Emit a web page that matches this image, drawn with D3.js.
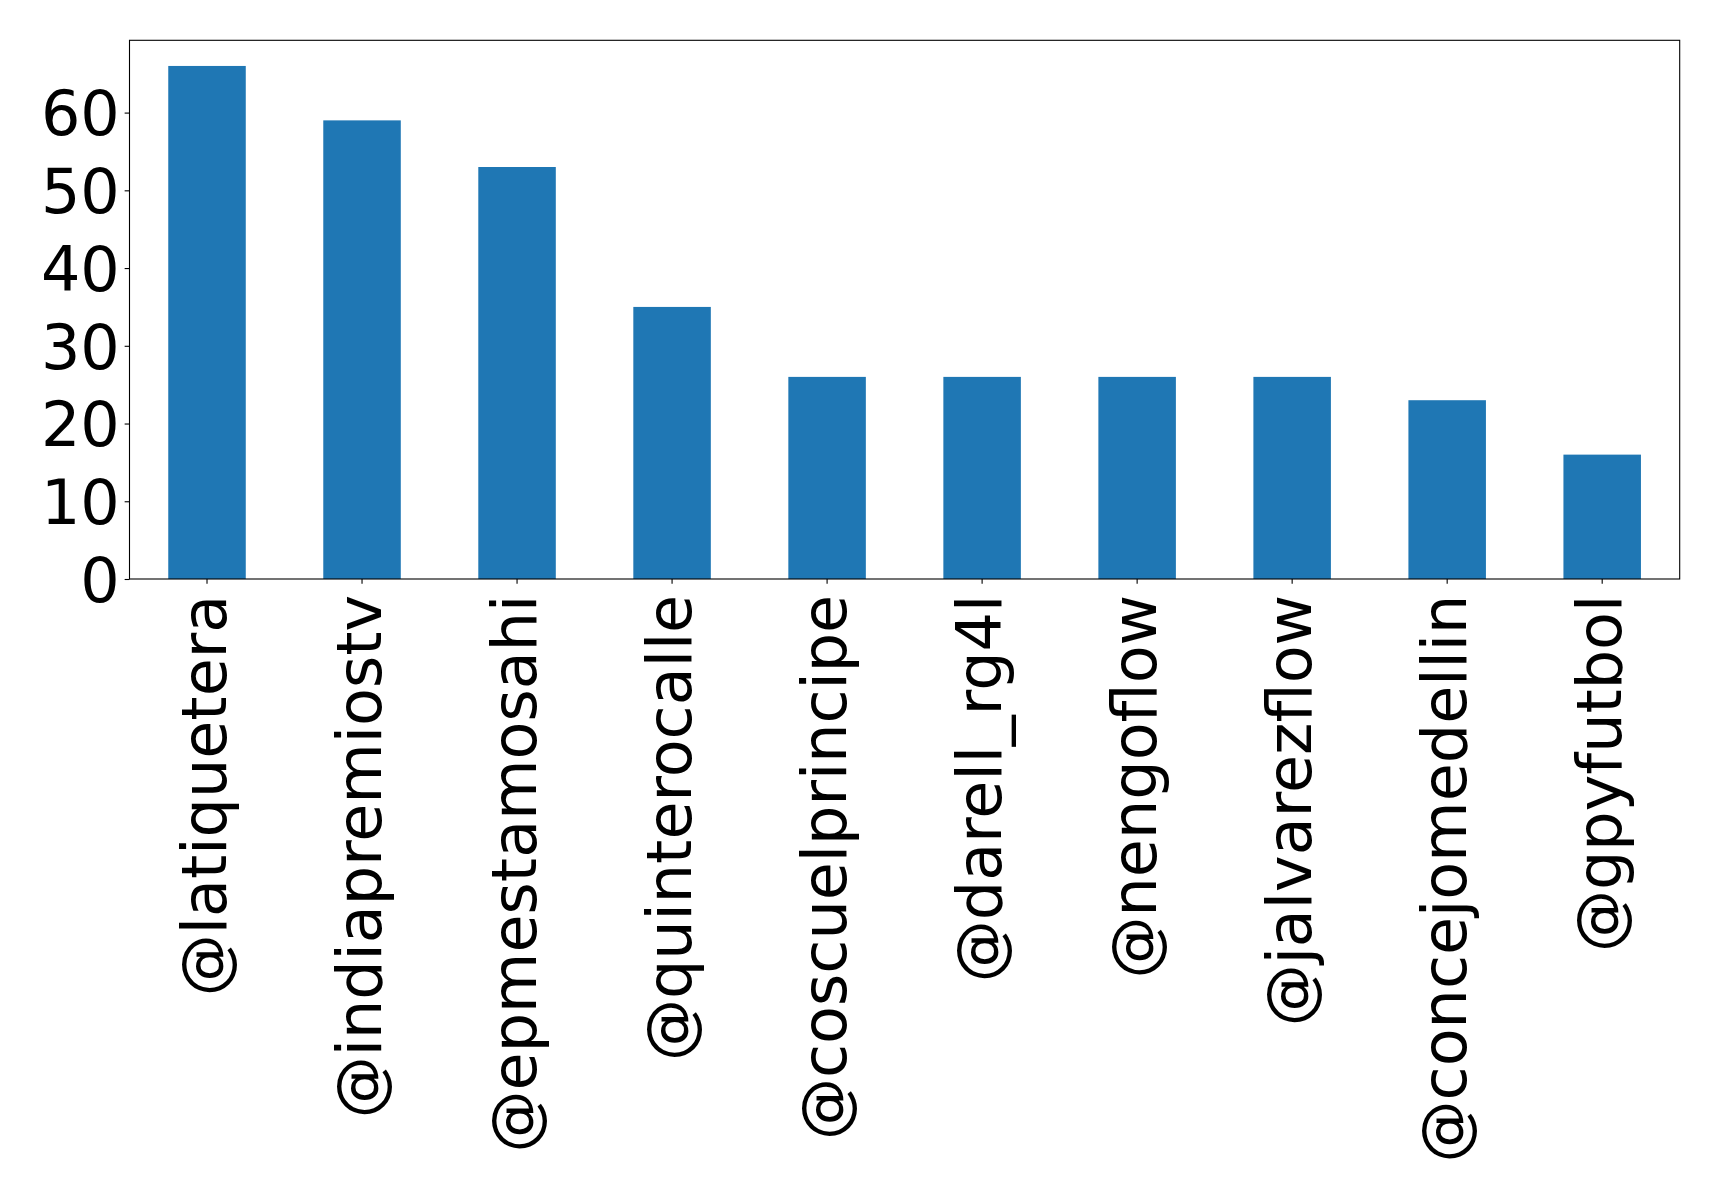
<!DOCTYPE html>
<html>
<head>
<meta charset="utf-8">
<script src="https://cdn.jsdelivr.net/npm/d3@7"></script>
<style>
  html, body { margin: 0; padding: 0; background: #fff; }
  svg { display: block; }
  text { font-family: "DejaVu Sans", sans-serif; fill: #000; }
</style>
</head>
<body>
<svg id="chart" width="1719" height="1201"></svg>
<script>
const categories = ["@latiquetera", "@indiapremiostv", "@epmestamosahi", "@quinterocalle", "@coscuelprincipe", "@darell_rg4l", "@nengoflow", "@jalvarezflow", "@concejomedellin", "@gpyfutbol"];
const values = [66, 59, 53, 35, 26, 26, 26, 26, 23, 16];
const yTicks = [0, 10, 20, 30, 40, 50, 60];

const svg = d3.select("#chart");
const margin = { left: 129.5, top: 40.3, right: 1719 - 1679.7, bottom: 1201 - 579 };
const W = 1719 - margin.left - margin.right;
const H = 1201 - margin.top - margin.bottom;

const x = d3.scaleBand().domain(categories).range([0, W]).paddingInner(0.5).paddingOuter(0.25);
const y = d3.scaleLinear().domain([0, d3.max(values) * 1.05]).range([H, 0]);

const g = svg.append("g").attr("transform", `translate(${margin.left},${margin.top})`);

g.selectAll("rect.bar").data(values).enter().append("rect")
  .attr("class", "bar")
  .attr("x", (d, i) => x(categories[i]))
  .attr("y", d => y(d))
  .attr("width", x.bandwidth())
  .attr("height", d => H - y(d))
  .attr("fill", "#1f77b4");

const tickLen = 4.86, pad = 4.86;

const yAxis = g.append("g").call(d3.axisLeft(y).tickValues(yTicks).tickSize(tickLen).tickPadding(pad).tickFormat(d3.format("d")));
yAxis.select(".domain").remove();
yAxis.selectAll("line").attr("stroke", "#000").attr("stroke-width", 1.1);
yAxis.selectAll("text").attr("font-size", 62).attr("font-family", "DejaVu Sans").attr("dy", "0.36em");

const xAxis = g.append("g").attr("transform", `translate(0,${H})`)
  .call(d3.axisBottom(x).tickSize(tickLen).tickPadding(pad));
xAxis.select(".domain").remove();
xAxis.selectAll("line").attr("stroke", "#000").attr("stroke-width", 1.1);
xAxis.selectAll("text")
  .attr("font-size", 62).attr("font-family", "DejaVu Sans")
  .attr("text-anchor", "end")
  .attr("dy", "0.31em")
  .attr("transform", `translate(0,${tickLen + pad + 6}) rotate(-90)`)
  .attr("x", 0).attr("y", 0);

g.append("rect").attr("x", 0).attr("y", 0).attr("width", W).attr("height", H)
  .attr("fill", "none").attr("stroke", "#000").attr("stroke-width", 1.1);
</script>
</body>
</html>
